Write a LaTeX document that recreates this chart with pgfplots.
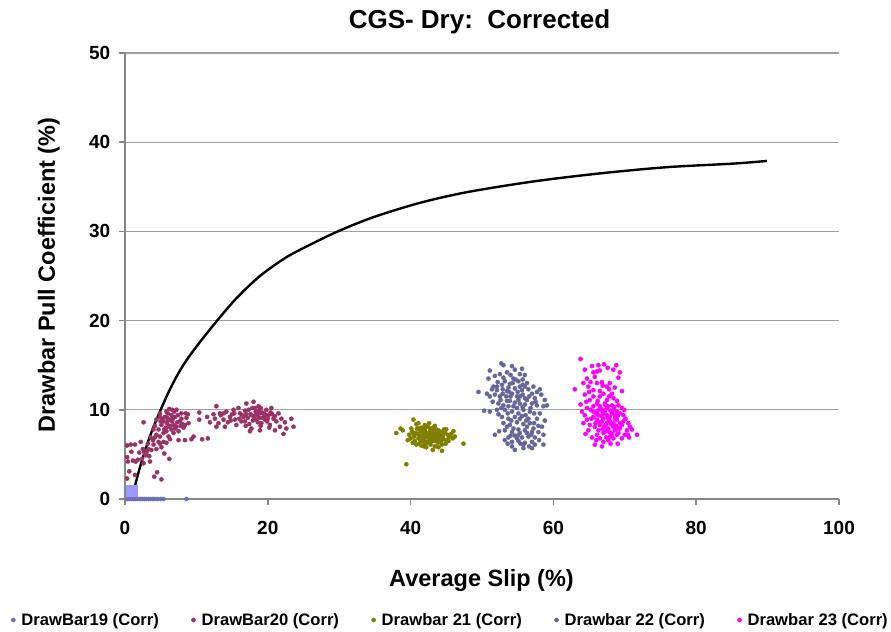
\documentclass[border=0pt]{standalone}
\usepackage{fontspec}
\setmainfont{Liberation Sans}
\usepackage{pgfplots}
\pgfplotsset{compat=1.18}
\definecolor{cA}{RGB}{112,112,184}
\definecolor{cB}{RGB}{153,51,102}
\definecolor{cC}{RGB}{128,128,0}
\definecolor{cD}{RGB}{102,102,153}
\definecolor{cE}{RGB}{255,0,255}
\definecolor{cSq}{RGB}{153,153,255}
\definecolor{axisgray}{RGB}{134,134,134}
\definecolor{gridgray}{RGB}{160,160,160}
\begin{document}
\begin{tikzpicture}
\begin{axis}[
  width=714bp, height=446bp, scale only axis,
  xmin=0, xmax=100, ymin=0, ymax=50,
  xtick={0,20,...,100}, ytick={0,10,...,50},
  axis x line*=bottom, axis y line*=left,
  axis line style={draw=axisgray, line width=2bp},
  ymajorgrids,
  major grid style={draw=gridgray, line width=1.3bp},
  tick align=outside, major tick length=5.5bp,
  tick style={draw=axisgray, line width=1.6bp},
  ticklabel style={font=\fontsize{19bp}{22bp}\selectfont\bfseries},
  /pgf/number format/assume math mode=true,
  xticklabel style={anchor=north, inner sep=0pt, yshift=-17bp},
  yticklabel style={anchor=east, inner sep=0pt, xshift=-9bp},
  clip=false,
  legend columns=5,
  legend style={draw=none, fill=none, at={(0.4545,-0.2713)}, anchor=center,
    font=\fontsize{16.6bp}{19bp}\selectfont\bfseries,
    nodes={inner xsep=0pt, inner ysep=0pt},
    /tikz/every odd column/.append style={column sep=6bp},
    /tikz/every even column/.append style={column sep=32.5bp}},
  legend image code/.code={\draw[#1] plot coordinates {(0bp,0bp)};},
  every axis plot/.append style={only marks, mark=*, mark size=2.1bp},
]
\addplot[cA, mark options={draw=cA, fill=cA}] coordinates {
(0.3,0) (0.6,0) (0.9,0) (1.2,0) (1.5,0) (1.8,0) (2.1,0) (2.4,0) (2.7,0) (3.0,0)
(3.3,0) (3.6,0) (3.9,0) (4.2,0) (4.6,0) (5.0,0) (5.4,0) (8.6,0)
};
\addlegendentry{DrawBar19 (Corr)}
\addplot[cB, mark options={draw=cB, fill=cB}] coordinates {
(0.3,2.3) (1.4,2.7) (0.3,4.7) (0.9,5.3) (0.4,4.2) (1.5,4.2) (1.8,4.4) (0.3,6.0) (0.8,6.1) (1.4,6.1)
(2.2,6.4) (2.6,8.6) (2.8,5.1) (2.9,4.9) (2.7,5.3) (3.0,5.0) (3.3,5.6) (3.7,5.5) (4.0,6.1) (4.4,5.6)
(5.1,5.8) (5.5,5.1) (3.5,4.2) (2.6,4.0) (6.2,4.5) (4.5,3.0) (4.1,2.5) (5.1,2.2) (4.9,7.0) (4.2,6.9)
(5.8,6.3) (6.3,6.7) (3.1,5.4) (3.4,4.8) (2.4,4.5) (1.1,4.3) (0.6,3.1) (2.0,5.2) (3.9,6.6) (4.7,6.4)
(4.9,9.6) (5.8,9.8) (7.2,10.0) (7.9,9.6) (8.6,9.1) (8.9,8.5) (8.2,8.0) (7.5,7.6) (6.8,7.4) (6.1,7.0)
(5.4,7.4) (4.7,7.8) (4.2,8.2) (4.4,8.9) (5.4,8.7) (6.3,8.9) (7.0,9.2) (6.5,9.4) (5.6,9.2) (5.1,8.3)
(6.1,8.1) (6.8,8.3) (7.7,8.7) (8.4,8.3) (7.2,8.1) (7.9,9.0) (4.9,9.2) (4.0,7.8) (5.8,7.6) (6.5,7.8)
(4.4,7.2) (7.5,6.6) (8.4,6.6) (9.3,6.7) (5.4,6.4) (4.9,6.2) (5.9,8.5) (6.6,8.7) (7.4,9.4) (5.2,9.0)
(6.0,9.6) (8.0,8.4) (7.0,7.9) (6.3,8.2) (5.7,8.0) (8.8,9.5) (6.9,9.8) (6.2,10.1)
(5.0,8.7) (5.9,9.1) (6.7,9.0) (7.3,8.6) (6.0,8.8) (5.5,7.8) (7.8,8.2) (8.5,9.6) (6.6,10.0) (3.6,6.9)
(3.2,6.2) (2.5,5.6)
(10.4,9.7) (10.4,8.9) (11.5,9.2) (10.8,6.7) (11.6,6.8) (11.9,8.6) (9.6,7.0)
(12.8,10.4) (13.3,9.6) (12.6,9.0) (13.1,8.5) (13.8,8.9) (14.2,9.8) (14.7,9.2) (14.0,8.1) (12.8,8.1) (15.4,8.9)
(15.9,10.2) (16.1,9.6) (15.6,8.3) (16.6,9.2) (17.0,10.7) (17.3,10.0) (16.8,8.7) (17.7,9.4) (18.0,10.9) (18.2,10.2)
(18.4,8.9) (17.7,7.9) (18.9,9.6) (18.7,10.4) (19.4,9.2) (19.1,8.5) (19.8,10.0) (19.6,8.9) (20.1,9.4) (20.3,8.3)
(20.5,10.2) (20.8,9.0) (21.2,8.7) (21.5,9.6) (21.7,8.1) (21.0,7.7) (22.2,7.3) (22.6,7.9) (23.3,9.0) (23.6,8.1)
(15.2,10.0) (16.3,8.7) (17.5,7.6) (18.9,7.7) (13.4,9.4)
(17.6,9.5) (18.3,9.8) (18.8,9.1) (19.2,9.7) (17.9,8.8) (18.5,9.4) (19.5,9.6) (20.0,9.0) (17.2,9.1) (16.8,9.9)
(18.0,9.3) (19.0,10.2) (20.4,9.7) (16.4,9.4) (18.6,8.6) (19.9,8.7) (17.4,8.4) (21.0,9.3) (15.0,9.5) (14.4,8.6)
(17.0,9.5) (18.1,9.0) (18.7,9.9) (19.3,9.1) (19.7,9.4) (20.6,9.5) (17.8,10.2) (16.0,9.0) (14.8,8.8) (13.8,9.6)
(12.4,9.5) (21.9,9.0) (22.4,8.6) (19.0,8.2) (20.2,8.0) (16.9,8.2) (15.3,9.6) (18.4,9.5)
};
\addlegendentry{DrawBar20 (Corr)}
\addplot[cC, mark options={draw=cC, fill=cC}] coordinates {
(38.0,7.4) (38.6,7.9) (38.9,7.7) (40.4,8.9) (39.4,3.9) (47.4,6.2) (46.2,7.0) (44.4,5.4) (43.1,5.5) (40.8,8.4)
(42.0,8.3) (45.0,7.8) (45.5,7.0)
(39.8,7.2) (40.0,6.8) (40.2,7.6) (40.5,7.0) (40.6,6.5) (40.9,7.9) (41.0,7.3) (41.1,6.8) (41.2,6.2) (41.4,7.6)
(41.5,8.0) (41.6,7.0) (41.7,6.5) (41.8,7.3) (41.9,5.9) (42.0,7.8) (42.1,6.9) (42.2,7.4) (42.3,6.4) (42.4,8.1)
(42.5,7.1) (42.6,6.7) (42.7,7.6) (42.8,6.1) (42.9,7.3) (43.0,6.9) (43.1,7.8) (43.2,6.5) (43.3,7.2) (43.4,5.9)
(43.5,7.5) (43.6,6.8) (43.7,7.1) (43.8,6.3) (43.9,7.7) (44.0,6.9) (44.1,6.6) (44.2,7.3) (44.4,6.1) (44.5,7.0)
(44.6,6.7) (44.8,7.4) (45.0,6.6) (45.2,7.2) (45.4,6.9) (45.7,7.3) (45.9,6.8) (41.3,7.1) (42.0,7.5) (42.5,6.3)
(43.0,7.6) (43.5,6.6) (41.8,6.6) (42.8,7.9) (40.7,7.4) (44.3,7.5) (43.9,5.8) (42.2,5.8) (41.5,6.0) (44.9,6.2)
(40.3,6.3) (39.6,6.6) (43.4,8.2) (42.6,8.5) (41.1,8.5)
(40.1,7.9) (40.8,6.1) (41.4,6.5) (41.9,8.0) (42.3,7.2) (42.9,6.5) (43.3,6.8) (43.6,7.8) (44.2,6.4) (44.7,7.8)
(45.3,6.5) (46.0,7.6) (41.6,7.7) (42.6,7.3) (43.8,7.4) (42.0,6.2) (41.2,7.9) (44.0,7.2) (43.2,8.0) (40.4,7.3)
};
\addlegendentry{Drawbar 21 (Corr)}
\addplot[cD, mark options={draw=cD, fill=cD}] coordinates {
(52.7,15.2) (54.2,14.9) (51.1,14.4) (50.9,13.5) (51.8,13.8) (52.5,14.0) (53.5,14.2) (54.0,13.9) (55.3,14.0) (56.0,13.9)
(53.2,13.2) (54.3,13.0) (55.1,13.2) (56.3,13.0) (52.1,12.6) (52.9,12.3) (53.7,12.5) (54.6,12.4) (55.6,12.2) (56.5,12.3)
(58.1,12.3) (49.5,12.0) (51.1,11.5) (51.8,11.7) (52.5,11.5) (53.4,11.5) (54.2,11.8) (54.9,11.5) (55.7,11.7) (56.6,11.5)
(58.3,11.7) (51.5,10.9) (52.3,10.7) (53.0,10.5) (53.9,11.0) (54.6,10.8) (55.3,10.7) (56.0,10.6) (57.0,10.7) (57.7,10.5)
(58.6,10.4) (59.1,10.5) (51.1,9.8) (52.1,10.0) (53.2,10.0) (54.2,9.8) (54.9,10.2) (55.8,10.0) (56.7,9.8) (58.1,9.6)
(52.8,9.2) (53.7,9.0) (54.6,9.2) (55.6,9.3) (56.5,9.0) (57.7,9.0) (53.0,8.5) (53.9,8.3) (54.9,8.6) (55.8,8.4)
(56.7,8.5) (57.9,8.2) (51.8,7.2) (53.2,7.7) (54.2,7.5) (55.1,7.8) (56.0,7.7) (57.0,7.5) (53.7,6.9) (54.6,7.1)
(55.6,6.9) (56.5,7.0) (57.4,6.9) (58.6,7.2) (53.2,6.6) (54.2,6.4) (55.1,6.5) (56.0,6.3) (57.0,6.4) (54.6,5.5)
(55.8,6.1) (57.4,6.1) (58.6,6.1) (53.5,8.1) (54.4,7.9) (55.3,7.4) (56.3,7.4) (57.2,7.9) (52.6,11.1) (53.7,10.4)
(56.3,11.1) (57.4,11.3) (55.1,11.1) (54.4,10.4) (55.3,11.5) (52.1,12.2) (56.0,12.6) (57.0,11.8) (57.7,12.0) (54.4,13.5)
(55.0,12.0) (53.5,12.1) (54.0,11.5) (52.8,12.8) (55.7,12.8) (56.3,8.1) (54.9,6.8) (54.2,5.9) (57.0,5.7) (55.8,5.7)
(58.4,8.1) (51.6,12.6) (50.7,11.8)
(52.2,13.1) (53.0,13.6) (54.7,13.4) (55.7,13.4) (53.9,12.9) (51.4,12.3) (55.3,12.6) (57.2,12.6) (52.9,11.8) (53.8,12.0)
(56.0,11.3) (57.5,10.9) (58.8,11.1) (53.5,11.0) (55.7,10.3) (56.8,10.2) (52.7,10.2) (53.6,9.6) (55.1,9.6) (56.1,9.4)
(57.3,9.6) (54.1,8.8) (55.3,9.0) (56.2,8.8) (57.3,8.5) (58.8,8.8) (54.0,7.1) (55.0,7.1) (56.9,7.2) (57.9,7.5)
(53.6,6.2) (55.4,6.2) (56.6,5.9) (58.0,6.6) (52.4,7.6) (52.3,9.5) (50.3,9.9) (54.6,14.5) (55.6,14.6) (53.0,15.0)
};
\addlegendentry{Drawbar 22 (Corr)}
\addplot[cE, mark options={draw=cE, fill=cE}] coordinates {
(63.8,15.7) (65.4,14.9) (67.1,15.1) (68.8,15.0) (66.5,14.4) (66.1,14.3) (64.4,14.5) (63.0,12.3) (64.7,13.5) (65.2,13.1)
(67.9,13.0) (69.1,13.6) (69.6,12.1) (66.1,13.0) (66.8,13.1) (65.6,12.2) (67.0,11.8) (68.2,11.8) (65.1,11.1) (66.1,10.7)
(67.5,11.1) (68.4,11.3) (69.1,10.5) (64.0,9.8) (64.7,10.2) (65.6,9.8) (66.5,10.4) (67.5,10.2) (68.4,10.0) (69.3,9.6)
(69.8,9.4) (64.7,8.9) (65.6,9.2) (66.3,9.4) (67.0,9.0) (67.9,9.2) (68.9,8.9) (69.8,8.7) (70.5,8.5) (64.9,7.7)
(65.8,8.1) (66.5,8.3) (67.5,8.5) (68.4,8.1) (69.3,7.9) (70.3,7.7) (66.1,7.2) (67.0,7.4) (67.9,7.5) (68.9,7.2)
(70.0,7.2) (70.6,6.9) (71.7,7.2) (69.0,6.2) (66.8,5.9) (65.8,6.1) (67.7,6.6) (65.1,8.3) (64.4,9.4) (66.5,11.5)
(65.6,10.4) (67.2,9.8) (68.2,10.5) (68.6,9.4) (66.8,8.7) (67.7,7.9) (68.6,7.7) (66.3,7.7) (67.9,8.7) (67.2,10.7)
(69.6,10.2) (64.4,11.7) (67.8,12.3) (65.6,11.5) (68.4,6.8) (66.5,6.8) (65.4,6.9) (69.6,6.8) (70.7,8.1) (64.2,8.5)
(68.2,9.6) (67.5,9.4) (66.8,9.9) (66.1,8.9) (68.4,8.5) (69.3,8.5) (69.1,7.4) (67.9,7.0) (67.0,6.4) (66.5,12.1)
(64.9,12.6) (67.5,12.6) (65.8,13.7) (68.4,14.5) (66.3,15.0)
(67.0,9.6) (67.8,8.8) (66.7,9.3) (68.0,9.9) (67.3,8.3) (66.9,10.0) (68.6,9.0) (67.6,10.4) (66.2,9.9) (68.9,9.8)
(66.4,8.6) (67.1,8.1) (67.6,9.1) (68.1,8.4) (68.8,8.2) (66.0,9.6) (66.6,10.1) (67.3,10.5) (68.5,10.3) (69.0,9.3)
(65.3,9.0) (65.9,8.5) (66.9,7.8) (67.4,7.6) (68.2,7.3) (68.8,7.9) (69.6,8.3) (70.1,9.0) (65.2,10.0) (67.8,11.5)
(66.2,11.0) (68.9,11.0) (69.9,10.0) (64.5,7.3) (66.0,6.6) (67.4,6.9) (68.0,6.2) (65.0,12.0) (66.9,12.7) (68.6,12.5)
(65.6,14.2) (64.2,13.0) (69.3,14.2) (67.6,14.7) (70.4,7.2) (71.0,7.8) (63.8,10.6) (64.6,10.9)
};
\addlegendentry{Drawbar 23 (Corr)}
\addplot[forget plot, cSq, mark=square*, mark size=5.5bp, mark options={draw=cSq, fill=cSq}] coordinates {(1.0,0.95)};
\addplot[forget plot, black, line width=2.4bp, no markers, smooth, tension=0.5] coordinates {
(1.25,1.0) (2.0,3.3) (3.0,5.9) (4.0,8.1) (5.0,10.0) (6.0,11.8) (7.0,13.4) (8.0,14.8) (9.0,16.0) (10.5,17.6)
(12.8,19.9) (15.6,22.5) (18.9,25.0) (22.6,27.1) (26.4,28.7) (30.1,30.1) (34.8,31.6) (41.3,33.2) (47.9,34.4)
(57.2,35.6) (66.5,36.5) (75.9,37.2) (85.2,37.6) (89.9,37.9)
};
\end{axis}
\node[anchor=base, font=\fontsize{26bp}{30bp}\selectfont\bfseries] at (354.5bp,470.7bp) {CGS- Dry:\ \ Corrected};
\node[anchor=base, font=\fontsize{23.5bp}{28bp}\selectfont\bfseries] at (356.5bp,-87bp) {Average Slip (\%)};
\node[anchor=base, rotate=90, font=\fontsize{23.5bp}{28bp}\selectfont\bfseries] at (-70bp,224bp) {Drawbar Pull Coefficient (\%)};
\path (-125bp,-133bp) rectangle (766bp,499bp);
\end{tikzpicture}
\end{document}
